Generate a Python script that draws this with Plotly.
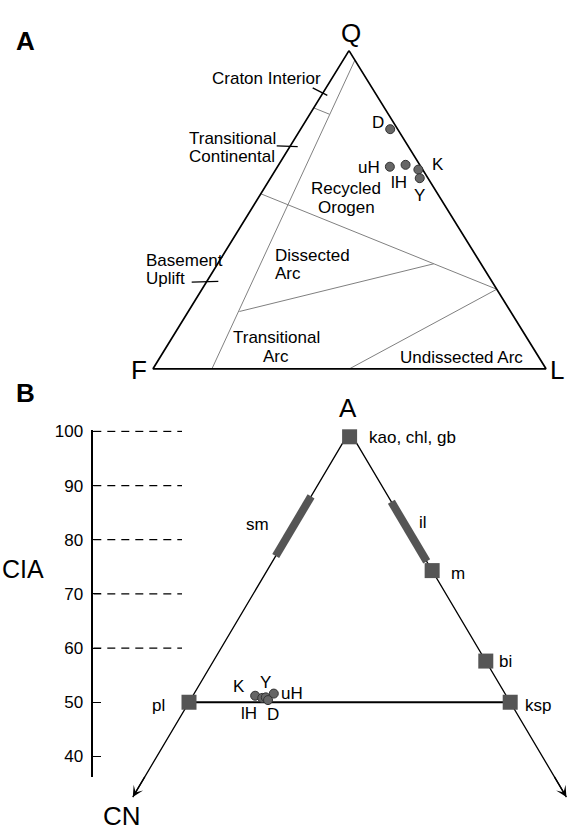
import plotly.graph_objects as go

FONT = "Liberation Sans, Arial, Helvetica, sans-serif"

# ---------------- data ----------------
# Panel A: QFL framework-grain composition of the sandstones (%)
qfl_names = ["D", "uH", "lH", "K", "Y"]
qfl_Q = [75.3, 63.5, 64.1, 62.6, 59.9]
qfl_F = [1.9, 7.9, 3.6, 1.1, 2.1]
qfl_L = [22.8, 28.6, 32.3, 36.3, 38.0]

# Provenance field boundaries (Dickinson), start/end points as Q, F, L
field_Q = [[97, 0], [82, 80], [55, 25], [18, 33], [0, 25]]
field_F = [[0, 85], [18, 15], [45, 0], [69, 12], [50, 0]]
field_L = [[3, 15], [0, 5], [0, 75], [13, 55], [50, 75]]

field_labels = ["Craton Interior", "Transitional", "Continental", "Basement", "Uplift",
                "Recycled", "Orogen", "Dissected", "Arc", "Transitional", "Arc",
                "Undissected Arc"]

# Panel B: A-CN-K (molar) composition
acnk_names = ["K", "lH", "Y", "uH", "D"]
acnk_A = [51.2, 50.8, 50.9, 51.6, 50.4]
acnk_CN = [39.1, 38.2, 37.6, 36.0, 37.5]
acnk_K = [9.7, 11.0, 11.5, 12.4, 12.1]

mineral_names = ["kao, chl, gb", "m", "bi", "pl", "ksp"]
mineral_A = [99.0, 74.3, 57.6, 50.0, 50.0]
mineral_CN = [0.5, 0.0, 0.0, 50.0, 0.0]
mineral_K = [0.5, 25.7, 42.4, 0.0, 50.0]

clay_names = ["sm", "il"]
clay_A = [[77, 88], [76, 87]]          # sm on the A-CN join, il on the A-K join

edge_end_A = 32.5                       # where the arrows of the A-CN and A-K joins end
cia_ticks = [40, 50, 60, 70, 80, 90, 100]
cia_dashed = [60, 70, 80, 90, 100]

# ---------------- geometry (page pixels) ----------------
W, H = 567, 830
V_Q, V_F, V_L = (349.0, 43.0), (153.0, 364.3), (546.0, 364.3)
V_A, V_CN, V_K = (349.6, 427.5), (28.4, 974.5), (670.8, 974.5)


def tern(a, b, c, va, vb, vc):
    s = a + b + c
    return ((a * va[0] + b * vb[0] + c * vc[0]) / s,
            (a * va[1] + b * vb[1] + c * vc[1]) / s)


def qfl(q, f, l):
    return tern(q, f, l, V_Q, V_F, V_L)


def acnk(a, cn, k):
    return tern(a, cn, k, V_A, V_CN, V_K)


def cia_of_px(p):
    return 100.0 * (V_CN[1] - p) / (V_CN[1] - V_A[1])


fig = go.Figure()

# ---- Panel A ----
fx, fy = [], []
for qs, fs, ls in zip(field_Q, field_F, field_L):
    for q, f, l in zip(qs, fs, ls):
        x, y = qfl(q, f, l)
        fx.append(x); fy.append(y)
    fx.append(None); fy.append(None)
fig.add_trace(go.Scatter(x=fx, y=fy, mode="lines", line=dict(color="#808080", width=1),
                         hoverinfo="skip", showlegend=False))

tri = [qfl(100, 0, 0), qfl(0, 100, 0), qfl(0, 0, 100), qfl(100, 0, 0)]
fig.add_trace(go.Scatter(x=[p[0] for p in tri], y=[p[1] for p in tri], mode="lines",
                         line=dict(color="black", width=1.7), hoverinfo="skip", showlegend=False))

qpts = [qfl(q, f, l) for q, f, l in zip(qfl_Q, qfl_F, qfl_L)]
fig.add_trace(go.Scatter(x=[p[0] for p in qpts], y=[p[1] for p in qpts], mode="markers",
                         marker=dict(size=9, color="#666666", line=dict(color="#333333", width=1)),
                         text=qfl_names, hoverinfo="text", showlegend=False))

# ---- Panel B ----
top = acnk(100, 0, 0)
lend = acnk(edge_end_A, 100 - edge_end_A, 0)
rend = acnk(edge_end_A, 0, 100 - edge_end_A)
fig.add_trace(go.Scatter(x=[lend[0], top[0], rend[0]], y=[lend[1], top[1], rend[1]], mode="lines",
                         line=dict(color="black", width=1.3), hoverinfo="skip", showlegend=False))
pl = acnk(50, 50, 0)
ksp = acnk(50, 0, 50)
fig.add_trace(go.Scatter(x=[pl[0], ksp[0]], y=[pl[1], ksp[1]], mode="lines",
                         line=dict(color="black", width=2), hoverinfo="skip", showlegend=False))

for name, (a0, a1) in zip(clay_names, clay_A):
    if name == "sm":
        p0, p1 = acnk(a0, 100 - a0, 0), acnk(a1, 100 - a1, 0)
    else:
        p0, p1 = acnk(a0, 0, 100 - a0), acnk(a1, 0, 100 - a1)
    fig.add_trace(go.Scatter(x=[p0[0], p1[0]], y=[p0[1], p1[1]], mode="lines",
                             line=dict(color="#555555", width=8), hoverinfo="skip", showlegend=False))

mpts = [acnk(a, cn, k) for a, cn, k in zip(mineral_A, mineral_CN, mineral_K)]
fig.add_trace(go.Scatter(x=[p[0] for p in mpts], y=[p[1] for p in mpts], mode="markers",
                         marker=dict(size=15, symbol="square", color="#555555"),
                         text=mineral_names, hoverinfo="text", showlegend=False))

apts = [acnk(a, cn, k) for a, cn, k in zip(acnk_A, acnk_CN, acnk_K)]
fig.add_trace(go.Scatter(x=[p[0] for p in apts], y=[p[1] for p in apts], mode="markers",
                         marker=dict(size=9, color="#666666", line=dict(color="#333333", width=1)),
                         text=acnk_names, hoverinfo="text", showlegend=False))

# CIA scale (second axes)
dx, dy = [], []
for v in cia_dashed:
    dx += [0, 1, None]; dy += [v, v, None]
fig.add_trace(go.Scatter(x=dx, y=dy, xaxis="x2", yaxis="y2", mode="lines", cliponaxis=False,
                         line=dict(color="black", width=1.3, dash="8px,6px"),
                         hoverinfo="skip", showlegend=False))

# ---------------- annotations ----------------
ann = []


def txt(x, y, s, size=17, xa="center", bold=False):
    ann.append(dict(x=x, y=y, text=("<b>%s</b>" % s) if bold else s, showarrow=False,
                    xanchor=xa, yanchor="middle", xref="x", yref="y",
                    font=dict(family=FONT, size=size, color="black")))


# panel letters and vertex labels
txt(25, 33, "A", 26, bold=True)
txt(25, 389, "B", 26, bold=True)
txt(351, 25, "Q", 26)
txt(139, 366, "F", 26)
txt(557, 366, "L", 26)
txt(348, 404, "A", 26)
txt(122, 816, "CN", 26)
txt(0, 566, "CIA", 25, xa="left")

# field labels (panel A)
field_pos = [(266, 71, "center"), (278, 132, "right"), (277, 150, "right"),
             (144, 255, "left"), (144, 273, "left"), (346, 182, "center"), (346, 201, "center"),
             (273, 250, "left"), (273, 268, "left"), (276, 333, "center"), (276, 352, "center"),
             (461, 353, "center")]
for s, (x, y, xa) in zip(field_labels, field_pos):
    txt(x, y, s, 17, xa=xa)

# sample labels (offsets from their points, px)
qfl_off = {"D": (-12, -7), "uH": (-21, 1), "lH": (-7, 18), "K": (20, -5), "Y": (0, 17)}
for n, p in zip(qfl_names, qpts):
    ox, oy = qfl_off[n]
    txt(p[0] + ox, p[1] + oy, n, 17)
acnk_off = {"K": (-16, -9), "Y": (0, -15), "uH": (18, 0), "lH": (-13, 16), "D": (5, 15)}
for n, p in zip(acnk_names, apts):
    ox, oy = acnk_off[n]
    txt(p[0] + ox, p[1] + oy, n, 17)
min_off = {"kao, chl, gb": (17, 1, "left"), "m": (26, 3, "center"), "bi": (20, 0, "center"),
           "pl": (-31, 3, "center"), "ksp": (28, 3, "center")}
for n, p in zip(mineral_names, mpts):
    ox, oy, xa = min_off[n]
    txt(p[0] + ox, p[1] + oy, n, 17, xa=xa)
for name, (a0, a1) in zip(clay_names, clay_A):
    am = (a0 + a1) / 2
    if name == "sm":
        p = acnk(am, 100 - am, 0); txt(p[0] - 36, p[1] - 2, name, 17)
    else:
        p = acnk(am, 0, 100 - am); txt(p[0] + 14, p[1] - 9, name, 17)

# arrow heads at the ends of the A-CN and A-K joins
for tip, back in [(lend, acnk(edge_end_A + 4, 100 - edge_end_A - 4, 0)),
                  (rend, acnk(edge_end_A + 4, 0, 100 - edge_end_A - 4))]:
    ann.append(dict(x=tip[0], y=tip[1], ax=back[0], ay=back[1], xref="x", yref="y",
                    axref="x", ayref="y", showarrow=True, arrowhead=3, arrowsize=1.4,
                    arrowwidth=1.3, arrowcolor="black", text=""))

# leader ticks of the continental-block labels
shapes = []
for (x0, y0, x1, y1) in [(312.7, 80.7, 327.3, 88.3), (276.7, 139.3, 297.7, 140.0),
                         (191.7, 276.7, 218.3, 276.0)]:
    shapes.append(dict(type="line", xref="x", yref="y", x0=x0, y0=y0, x1=x1, y1=y1,
                       line=dict(color="black", width=1.3)))

ax_top_px, ax_bot_px = V_A[1] - 1.2, 776.7
fig.update_layout(
    width=W, height=H, autosize=False,
    margin=dict(l=0, r=0, t=0, b=0, pad=0),
    paper_bgcolor="white", plot_bgcolor="rgba(0,0,0,0)",
    xaxis=dict(range=[0, W], domain=[0, 1], visible=False, fixedrange=True),
    yaxis=dict(range=[H, 0], domain=[0, 1], visible=False, fixedrange=True),
    xaxis2=dict(range=[0, 1], domain=[93.3 / W, 182.0 / W], anchor="y2", visible=False,
                fixedrange=True),
    yaxis2=dict(range=[cia_of_px(ax_bot_px), cia_of_px(ax_top_px)],
                domain=[1 - ax_bot_px / H, 1 - ax_top_px / H], anchor="x2",
                tickvals=cia_ticks, ticks="inside", ticklen=8, tickwidth=1.3, tickcolor="black",
                showline=True, linecolor="black", linewidth=1.5, showgrid=False, zeroline=False,
                tickfont=dict(family=FONT, size=17, color="black"), ticklabelstandoff=5,
                fixedrange=True),
    annotations=ann, shapes=shapes, showlegend=False,
    font=dict(family=FONT, color="black"),
)

pin = ("document.body.style.margin='0';document.body.style.overflow='hidden';"
       "var gd=document.getElementById('{plot_id}');gd.style.position='fixed';"
       "gd.style.top='0px';gd.style.left='0px';")
fig.write_html("out.html", config={"displayModeBar": False}, post_script=pin)
